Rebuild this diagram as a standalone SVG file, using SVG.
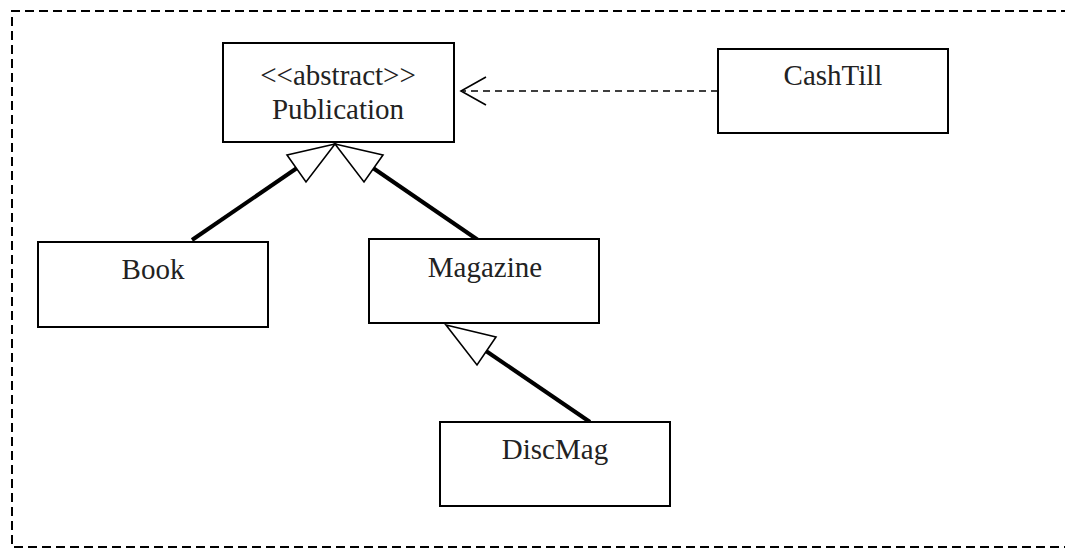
<svg xmlns="http://www.w3.org/2000/svg" width="1065" height="548" viewBox="0 0 1065 548">
<style>
.box{fill:#fff;stroke:#000;stroke-width:2}
.lbl{font-family:"Liberation Serif","Times New Roman",serif;font-size:29px;fill:#222;text-anchor:middle}
.gen{stroke:#000;stroke-width:4;fill:none}
.tri{fill:#fff;stroke:#000;stroke-width:1.6;stroke-linejoin:miter}
.dep{stroke:#000;stroke-width:1.6;fill:none;stroke-dasharray:7 5}
.open{stroke:#000;stroke-width:1.6;fill:none}
</style>
<rect width="1065" height="548" fill="#fff"/>
<path d="M1070,11 H12 V547 H1070" fill="none" stroke="#000" stroke-width="2" stroke-dasharray="9 5"/>
<g id="connectors">
<line class="gen" x1="192" y1="240" x2="297" y2="168"/>
<polygon class="tri" points="335,144 287,155 306,182"/>
<line class="gen" x1="478" y1="240" x2="373" y2="168"/>
<polygon class="tri" points="335,144 383,155 364,182"/>
<line class="gen" x1="590" y1="422" x2="486" y2="351"/>
<polygon class="tri" points="446,325 496,337 477,365"/>
<line class="dep" x1="718" y1="91" x2="463" y2="91"/>
<polyline class="open" points="486,77 461,91 486,105"/>
</g>
<g id="publication">
<rect class="box" x="223" y="43" width="231" height="99"/>
<text class="lbl" x="338" y="85">&lt;&lt;abstract&gt;&gt;</text>
<text class="lbl" x="338" y="119">Publication</text>
</g>
<g id="cashtill">
<rect class="box" x="718" y="49" width="230" height="84"/>
<text class="lbl" x="833" y="85">CashTill</text>
</g>
<g id="book">
<rect class="box" x="38" y="242" width="230" height="85"/>
<text class="lbl" x="153" y="279">Book</text>
</g>
<g id="magazine">
<rect class="box" x="369" y="239" width="230" height="84"/>
<text class="lbl" x="485" y="277">Magazine</text>
</g>
<g id="discmag">
<rect class="box" x="440" y="422" width="230" height="84"/>
<text class="lbl" x="555" y="459">DiscMag</text>
</g>
</svg>
